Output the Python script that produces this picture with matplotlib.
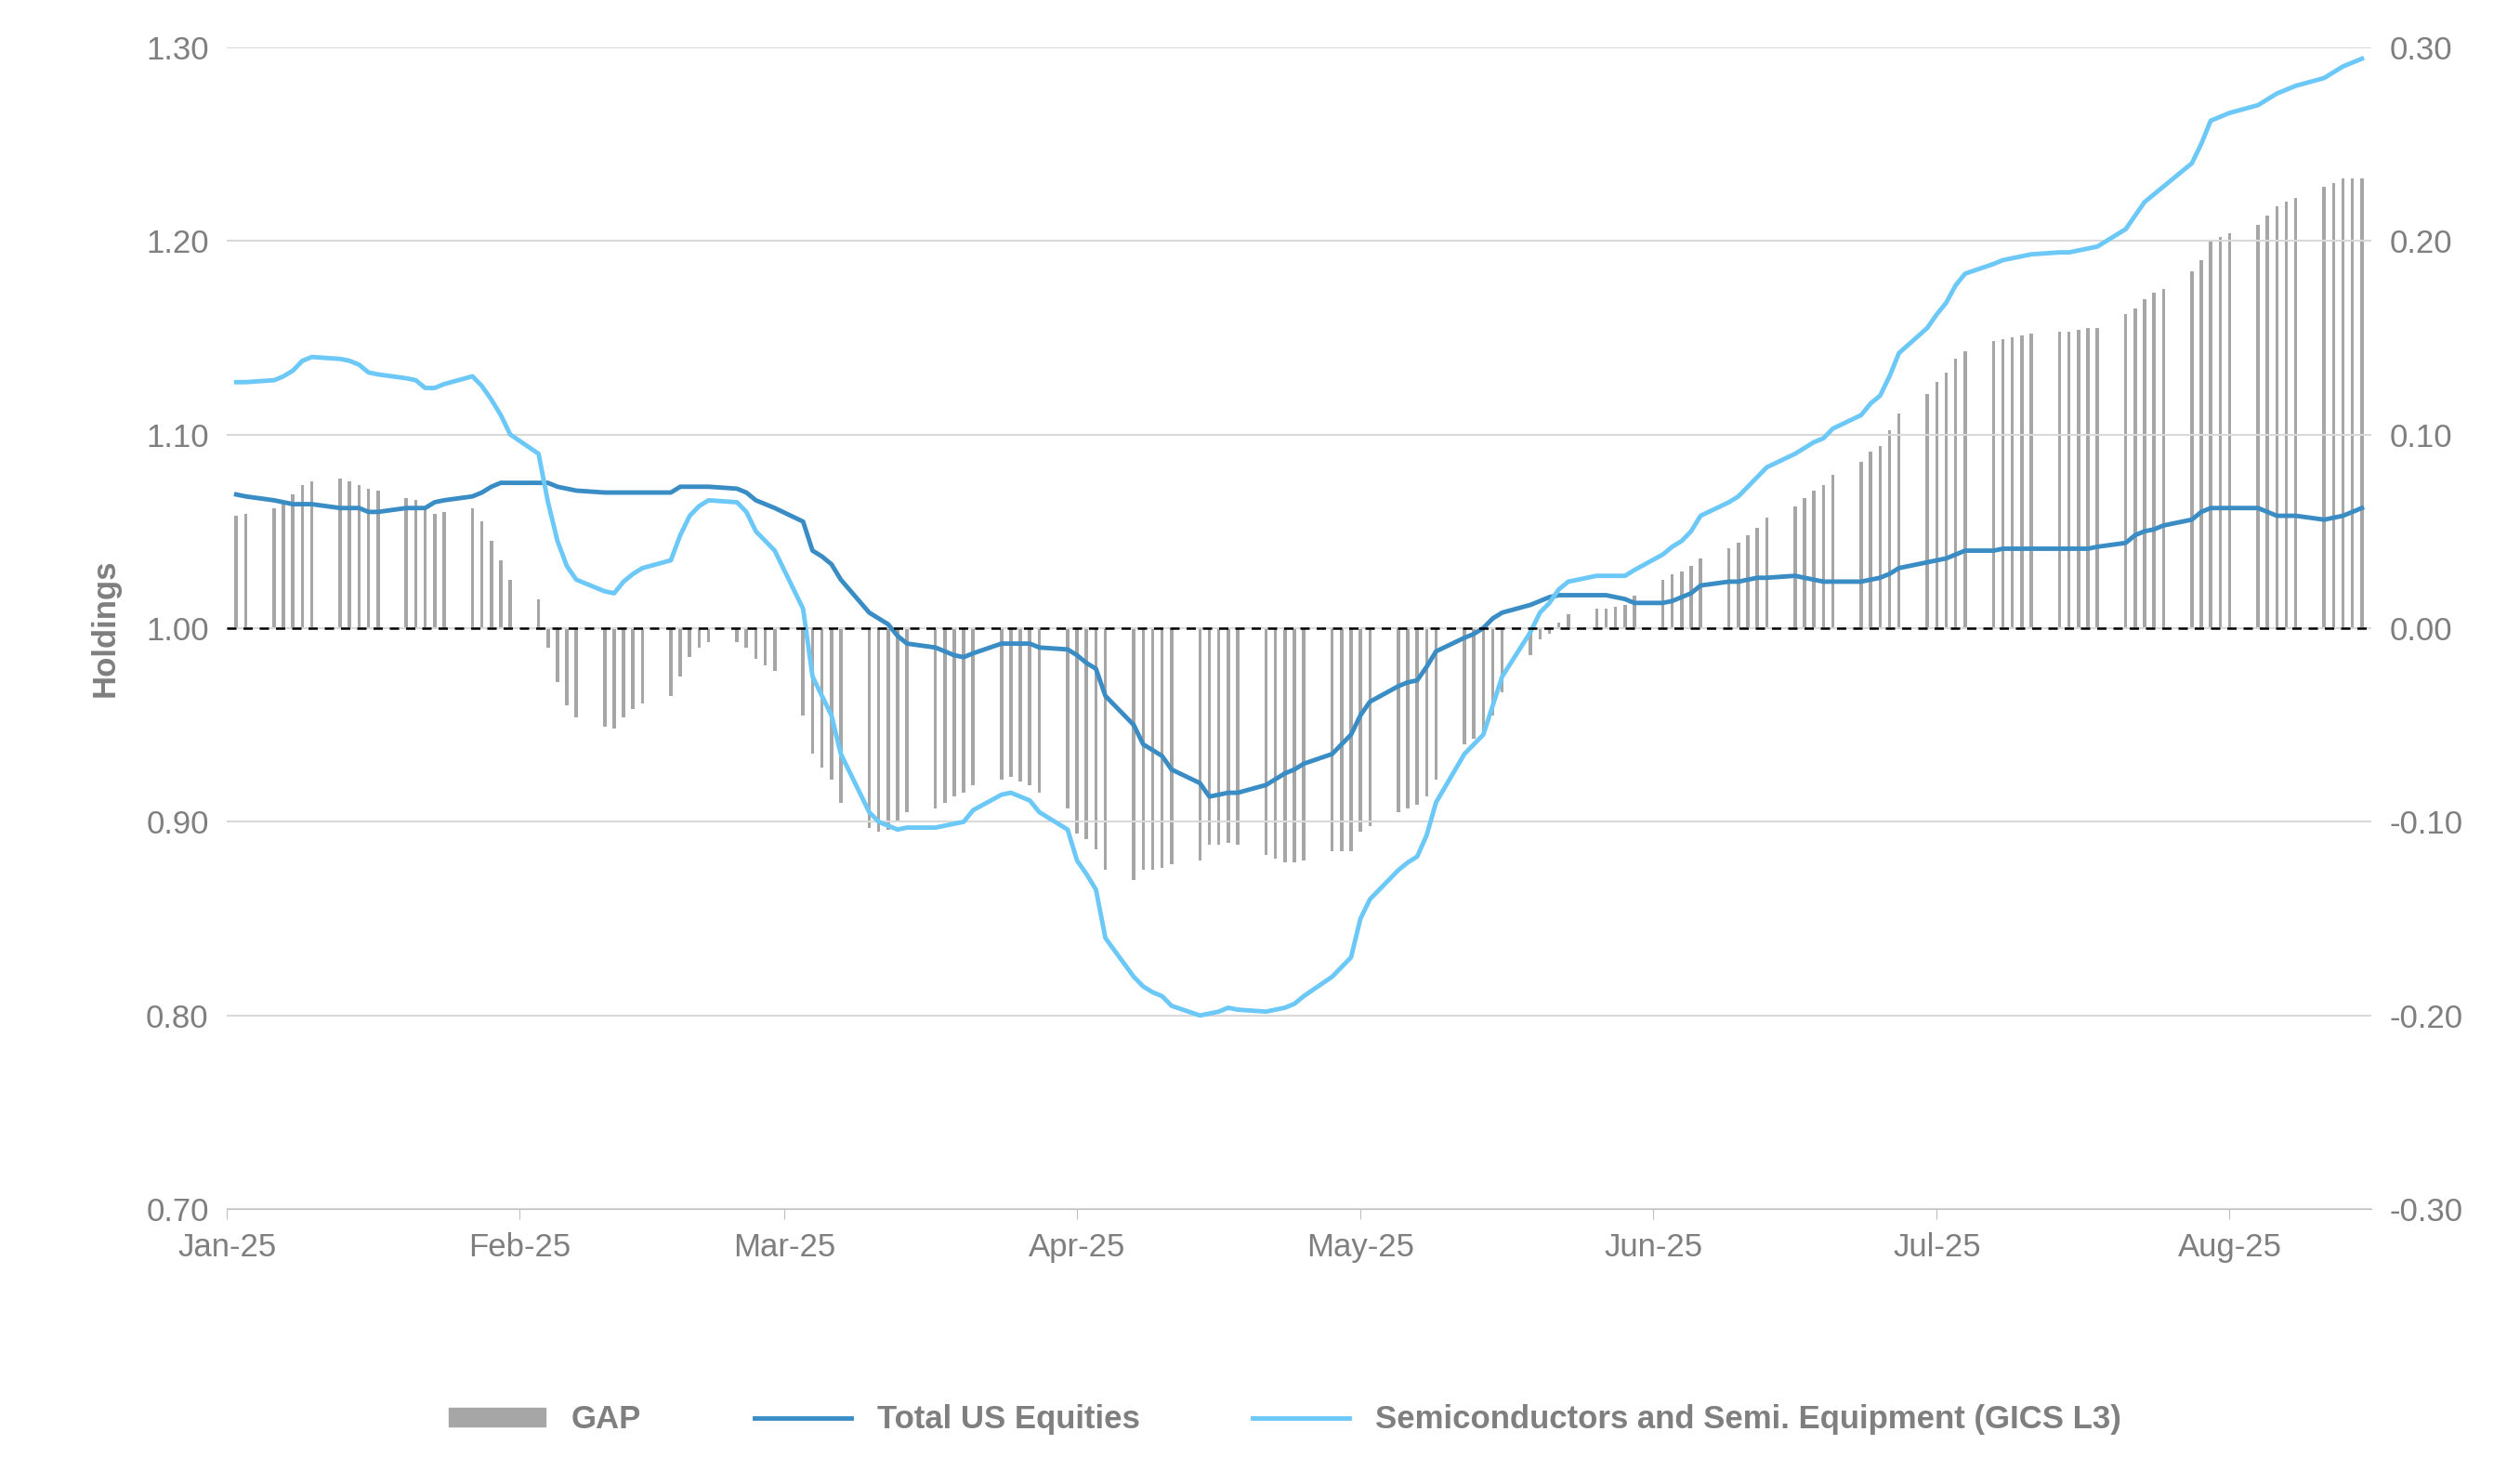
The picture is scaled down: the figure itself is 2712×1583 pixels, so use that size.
import matplotlib
matplotlib.use("Agg")
import matplotlib.pyplot as plt
import matplotlib.dates as mdates
import numpy as np
import pandas as pd

plt.rcParams["font.family"] = "Liberation Sans"

dates = pd.bdate_range("2025-01-02", "2025-08-15")

semis = [1.127,1.127,
 1.128,1.130,1.133,1.138,1.140,
 1.139,1.138,1.136,1.132,1.131,
 1.129,1.128,1.124,1.124,1.126,
 1.130,1.125,1.118,1.110,1.100,
 1.090,1.065,1.045,1.032,1.025,
 1.019,1.018,1.024,1.028,1.031,
 1.035,1.048,1.058,1.063,1.066,
 1.065,1.060,1.050,1.045,1.040,
 1.010,0.975,0.965,0.955,0.935,
 0.905,0.900,0.898,0.896,0.897,
 0.897,0.898,0.899,0.900,0.906,
 0.914,0.915,0.913,0.911,0.905,
 0.896,0.880,0.873,0.865,0.840,
 0.820,0.815,0.812,0.810,0.805,
 0.800,0.801,0.802,0.804,0.803,
 0.802,0.803,0.804,0.806,0.810,
 0.820,0.825,0.830,0.850,0.860,
 0.875,0.879,0.882,0.893,0.910,
 0.935,0.940,0.945,0.960,0.975,
 0.998,1.008,1.013,1.020,1.024,
 1.027,1.027,1.027,1.027,1.030,
 1.038,1.042,1.045,1.050,1.058,
 1.065,1.068,1.073,1.078,1.083,
 1.090,1.093,1.096,1.098,1.103,
 1.110,1.116,1.120,1.130,1.142,
 1.155,1.162,1.168,1.177,1.183,
 1.188,1.190,1.191,1.192,1.193,
 1.194,1.194,1.195,1.196,1.197,
 1.206,1.213,1.220,1.224,1.228,
 1.240,1.250,1.262,1.264,1.266,
 1.270,1.273,1.276,1.278,1.280,
 1.284,1.287,1.290,1.292,1.294]

total = [1.069,1.068,
 1.066,1.065,1.064,1.064,1.064,
 1.062,1.062,1.062,1.060,1.060,
 1.062,1.062,1.062,1.065,1.066,
 1.068,1.070,1.073,1.075,1.075,
 1.075,1.075,1.073,1.072,1.071,
 1.070,1.070,1.070,1.070,1.070,
 1.070,1.073,1.073,1.073,1.073,
 1.072,1.070,1.066,1.064,1.062,
 1.055,1.040,1.037,1.033,1.025,
 1.008,1.005,1.002,0.996,0.992,
 0.990,0.988,0.986,0.985,0.987,
 0.992,0.992,0.992,0.992,0.990,
 0.989,0.986,0.982,0.979,0.965,
 0.950,0.940,0.937,0.934,0.927,
 0.920,0.913,0.914,0.915,0.915,
 0.919,0.922,0.925,0.927,0.930,
 0.935,0.940,0.945,0.955,0.962,
 0.970,0.972,0.973,0.980,0.988,
 0.995,0.997,1.000,1.005,1.008,
 1.012,1.014,1.016,1.017,1.017,
 1.017,1.017,1.016,1.015,1.013,
 1.013,1.014,1.016,1.018,1.022,
 1.024,1.024,1.025,1.026,1.026,
 1.027,1.026,1.025,1.024,1.024,
 1.024,1.025,1.026,1.028,1.031,
 1.034,1.035,1.036,1.038,1.040,
 1.040,1.041,1.041,1.041,1.041,
 1.041,1.041,1.041,1.041,1.042,
 1.044,1.048,1.050,1.051,1.053,
 1.056,1.060,1.062,1.062,1.062,
 1.062,1.060,1.058,1.058,1.058,
 1.056,1.057,1.058,1.060,1.062]

n = min(len(dates), len(semis), len(total))
dates = dates[:n]; semis = np.array(semis[:n]); total = np.array(total[:n])
gap = semis - total

grey = "#7f7f7f"
fig = plt.figure(figsize=(27.12, 15.83), dpi=100)
ax = fig.add_axes([0.09, 0.178, 0.851, 0.79])
ax2 = ax.twinx()
ax2.bar(dates, gap, width=0.35, color="#a6a6a6", zorder=1)
ax2.set_ylim(-0.3, 0.3)
ax2.set_yticks(np.arange(-0.3, 0.31, 0.1))
ax2.set_yticklabels([f"{v:.2f}" for v in np.arange(-0.3, 0.31, 0.1)])
ax.set_zorder(ax2.get_zorder() + 1); ax.patch.set_visible(False)

ax.plot(dates, total, color="#3a8cc4", lw=3.5)
ax.plot(dates, semis, color="#6cc8f7", lw=3.5)
ax.axhline(1.0, color="black", ls=(0, (4, 3)), lw=1.8)
ax.set_ylim(0.7, 1.3)
ax.set_yticks(np.arange(0.7, 1.31, 0.1))
ax.set_yticklabels([f"{v:.2f}" for v in np.arange(0.7, 1.31, 0.1)])
ax.set_xlim(pd.Timestamp("2025-01-01"), pd.Timestamp("2025-08-16"))
ax.xaxis.set_major_locator(mdates.MonthLocator())
ax.xaxis.set_major_formatter(mdates.DateFormatter("%b-%y"))
ax.grid(axis="y", color="#d9d9d9", lw=1.5)
ax.set_axisbelow(True)
for a in (ax, ax2):
    for s in ("top", "right", "left"):
        a.spines[s].set_visible(False)
    a.tick_params(axis="y", length=0, labelsize=25, colors=grey, pad=14)
ax2.spines["bottom"].set_visible(False)
ax.spines["bottom"].set_color("#bfbfbf")
ax.tick_params(axis="x", labelsize=25, colors=grey, length=8, color="#bfbfbf", pad=10)
ax.set_ylabel("Holdings", fontsize=25, color=grey, fontweight="bold", labelpad=20)

from matplotlib.patches import Patch
from matplotlib.lines import Line2D
handles = [Patch(color="#a6a6a6"), Line2D([], [], color="#3a8cc4", lw=3.5),
           Line2D([], [], color="#6cc8f7", lw=3.5)]
leg = fig.legend(handles, ["GAP", "Total US Equities", "Semiconductors and Semi. Equipment (GICS L3)"],
                 loc="center", bbox_to_anchor=(0.51, 0.035), ncol=3, frameon=False,
                 prop={"size": 25, "weight": "bold"}, handlelength=3, columnspacing=3.5,
                 handleheight=0.5)
for t in leg.get_texts():
    t.set_color(grey)
fig.savefig("out.png", dpi=100)
